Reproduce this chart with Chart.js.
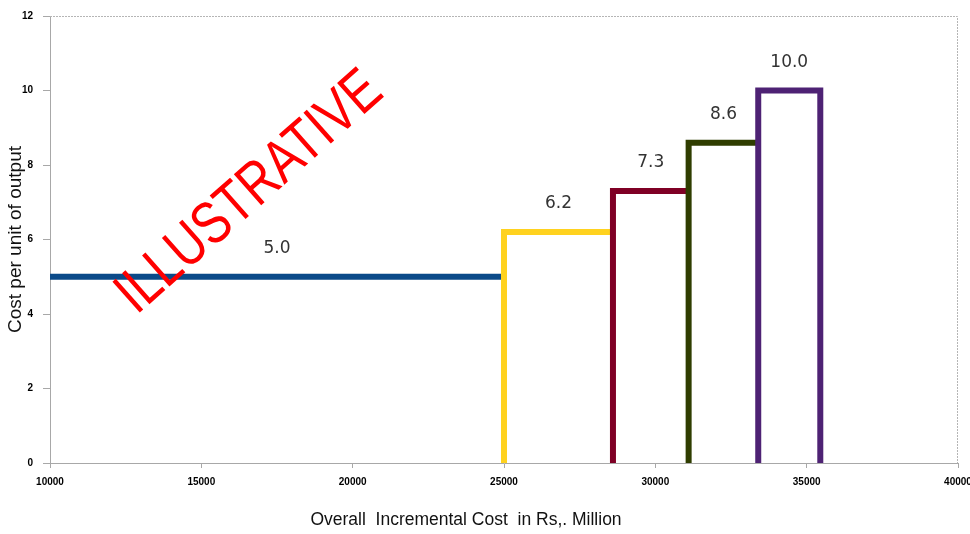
<!DOCTYPE html>
<html>
<head>
<meta charset="utf-8">
<script src="https://cdn.jsdelivr.net/npm/chart.js@4"></script>
<style>
  html, body { margin: 0; padding: 0; background: #fff; }
  #wrap { width: 970px; height: 534px; }
</style>
</head>
<body>
<div id="wrap"><canvas id="myChart"></canvas></div>
<script>
// cost curve steps (x in Rs. Million, y = cost per unit)
const stepStart = [10000, 25000, 28600, 31100, 33400];
const stepEnd = [25000, 28600, 31100, 33400, 35450];
const stepCost = [5.0, 6.2, 7.3, 8.6, 10.0];
const stepColors = ['#0B4A89', '#FFD21F', '#7F0025', '#2F3D00', '#4E2274'];

const xTitle = 'Overall  Incremental Cost  in Rs,. Million';
const yTitle = 'Cost per unit of output';
const watermark = 'ILLUSTRATIVE';

const ctx = document.getElementById('myChart');

const datasets = stepCost.map((c, i) => {
    let pts;
    if (i === 0) {
        pts = [{x: stepStart[i], y: c}, {x: stepEnd[i], y: c}];
    } else {
        pts = [{x: stepStart[i], y: 0}, {x: stepStart[i], y: c}, {x: stepEnd[i], y: c}];
        if (i === stepCost.length - 1) pts.push({x: stepEnd[i], y: 0});
    }
    return {
        data: pts,
        showLine: true,
        borderColor: stepColors[i],
        borderWidth: 6,
        pointRadius: 0,
        borderJoinStyle: 'miter',
        borderCapStyle: 'butt',
        order: 10 - i
    };
});

const frame = {
    id: 'frame',
    beforeDatasetsDraw(chart) {
        const {ctx, chartArea: a} = chart;
        ctx.save();
        ctx.strokeStyle = '#b5b5b5';
        ctx.lineWidth = 1;
        ctx.setLineDash([2, 1]);
        ctx.beginPath();
        ctx.moveTo(a.left, a.top + 0.5);
        ctx.lineTo(a.right - 0.5, a.top + 0.5);
        ctx.lineTo(a.right - 0.5, a.bottom);
        ctx.stroke();
        ctx.restore();
    }
};

const stepLabels = {
    id: 'stepLabels',
    afterDatasetsDraw(chart) {
        const {ctx, scales: {x, y}} = chart;
        ctx.save();
        ctx.font = '17px "DejaVu Sans"';
        ctx.fillStyle = '#333';
        ctx.textAlign = 'center';
        ctx.textBaseline = 'middle';
        stepCost.forEach((c, i) => {
            const px = x.getPixelForValue((stepStart[i] + stepEnd[i]) / 2);
            const py = y.getPixelForValue(c) - 28;
            ctx.fillText(c.toFixed(1), px, py);
        });
        ctx.restore();
    }
};

// x axis title sits left of the plot centre in the original
const xLabel = {
    id: 'xLabel',
    afterDraw(chart) {
        const {ctx} = chart;
        ctx.save();
        ctx.font = '17.5px "Liberation Sans"';
        ctx.fillStyle = '#111';
        ctx.textAlign = 'center';
        ctx.textBaseline = 'middle';
        ctx.fillText(xTitle, 466, 520);
        ctx.restore();
    }
};

const stamp = {
    id: 'stamp',
    afterDraw(chart) {
        const {ctx} = chart;
        ctx.save();
        ctx.translate(250, 193);
        ctx.rotate(-41.5 * Math.PI / 180);
        ctx.scale(0.8, 1);
        ctx.font = '60px "Liberation Sans"';
        ctx.fillStyle = '#FF0000';
        ctx.textAlign = 'center';
        ctx.textBaseline = 'middle';
        ctx.fillText(watermark, 0, 0);
        ctx.restore();
    }
};

new Chart(ctx, {
    type: 'scatter',
    data: { datasets: datasets },
    options: {
        responsive: true,
        maintainAspectRatio: false,
        animation: false,
        layout: { padding: { top: 15, right: 12, left: 0, bottom: 0 } },
        plugins: {
            legend: { display: false },
            tooltip: { enabled: false }
        },
        scales: {
            x: {
                type: 'linear',
                min: 10000,
                max: 40000,
                afterFit: (s) => { s.height = 71; s.paddingLeft = 0; s.paddingRight = 0; },
                ticks: {
                    stepSize: 5000,
                    padding: 8,
                    maxRotation: 0,
                    color: '#000',
                    font: { family: 'Liberation Sans', size: 10, weight: 'bold' },
                    callback: (v) => String(v)
                },
                grid: { drawOnChartArea: false, tickLength: 5, color: '#a8a8a8' },
                border: { color: '#a8a8a8' }
            },
            y: {
                min: 0,
                max: 12,
                afterFit: (s) => { s.width = 50; },
                ticks: {
                    stepSize: 2,
                    padding: 10,
                    color: '#000',
                    font: { family: 'Liberation Sans', size: 10, weight: 'bold' }
                },
                grid: { drawOnChartArea: false, tickLength: 7, color: '#a8a8a8' },
                border: { color: '#a8a8a8' },
                title: {
                    display: true,
                    text: yTitle,
                    color: '#111',
                    font: { family: 'Liberation Sans', size: 19 },
                    padding: { top: 4, bottom: 4 }
                }
            }
        }
    },
    plugins: [frame, stepLabels, xLabel, stamp]
});
</script>
</body>
</html>
